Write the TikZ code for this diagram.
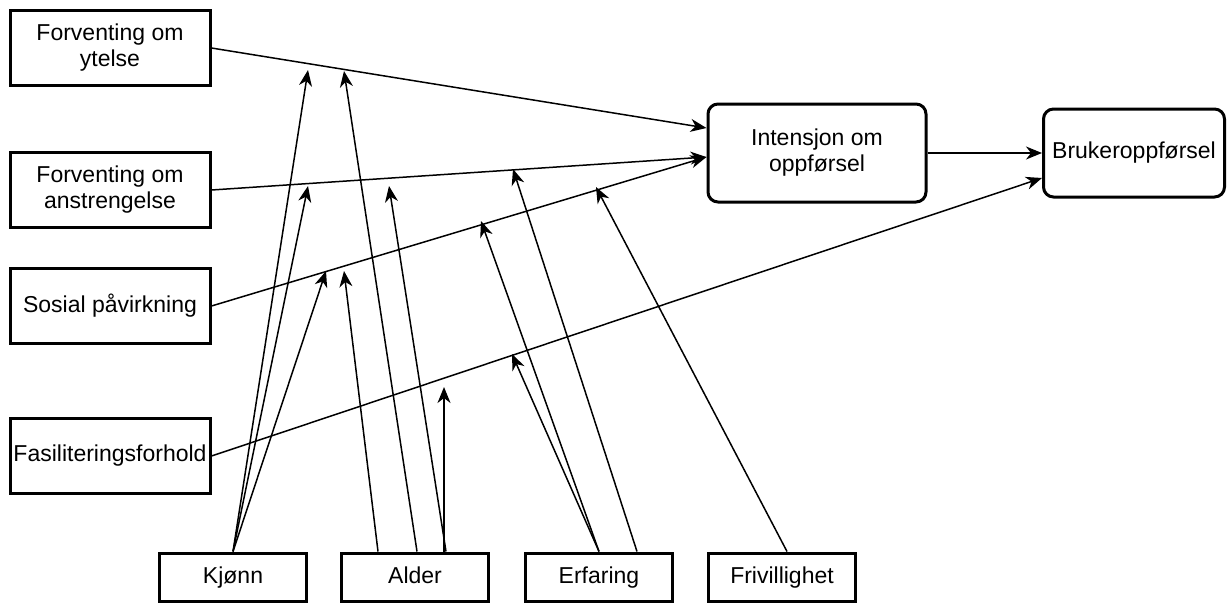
\documentclass[tikz,border=0pt]{standalone}
\usepackage{fontspec}
\setmainfont{Liberation Sans}
\usetikzlibrary{arrows.meta}

\begin{document}
\begin{tikzpicture}[x=1pt, y=-1pt,
  box/.style={draw, line width=3pt, inner sep=0pt, align=center, font=\fontsize{23}{26}\selectfont},
  side/.style={box, minimum width=200pt, minimum height=75pt},
  low/.style={box, minimum width=147pt, minimum height=48pt, text height=17pt, text depth=5pt},
  round/.style={box, rounded corners=10pt},
  arr/.style={line width=1.5pt, -{Stealth[length=16pt, width=13pt, inset=5pt]}}]

\useasboundingbox (0,0) rectangle (1230,603);

\node[side] (1) at (110,48) {Forventing om\\ytelse};
\node[side] (2) at (110,190) {Forventing om\\anstrengelse};
\node[side] (3) at (110,306) {Sosial påvirkning};
\node[side] (4) at (110,456) {Fasiliteringsforhold};

\node[round, minimum width=218pt, minimum height=98pt] (5) at (817,153) {Intensjon om\\oppførsel};
\node[round, minimum width=181pt, minimum height=88pt] (6) at (1134,153) {Brukeroppførsel};

\node[low] (7) at (233,577) {Kjønn};
\node[low] (8) at (415,577) {Alder};
\node[low] (9) at (599,577) {Erfaring};
\node[low] (10) at (782,577) {Frivillighet};

% tips of the moderating arrows
\coordinate (k1) at (308,70);
\coordinate (k2) at (308,186);
\coordinate (k3) at (326,271);
\coordinate (a1) at (344,71);
\coordinate (a2) at (389,186);
\coordinate (a3) at (344,271);
\coordinate (a4) at (444,387);
\coordinate (e1) at (513,169);
\coordinate (e2) at (481,221);
\coordinate (e3) at (512,354);
\coordinate (f1) at (596,187);

\path[draw, arr] (1.east) -- ([yshift=25pt]5.west);
\path[draw, arr] (2.east) -- ([yshift=-4pt]5.west);
\path[draw, arr] (3.east) -- ([yshift=-4pt]5.west);
\path[draw, arr] (4.east) -- ([yshift=-25pt]6.west);
\path[draw, arr] (5.east) -- (6.west);

\path[draw, arr] (7.north) -- (k1);
\path[draw, arr] (7.north) -- (k2);
\path[draw, arr] (7.north) -- (k3);

\path[draw, arr] ([xshift=2pt]8.north) -- (a1);
\path[draw, arr] ([xshift=31pt]8.north) -- (a2);
\path[draw, arr] ([xshift=-37pt]8.north) -- (a3);
\path[draw, arr] ([xshift=29pt]8.north) -- (a4);

\path[draw, arr] ([xshift=38pt]9.north) -- (e1);
\path[draw, arr] (9.north) -- (e2);
\path[draw, arr] (9.north) -- (e3);

\path[draw, arr] ([xshift=5pt]10.north) -- (f1);

\end{tikzpicture}
\end{document}
